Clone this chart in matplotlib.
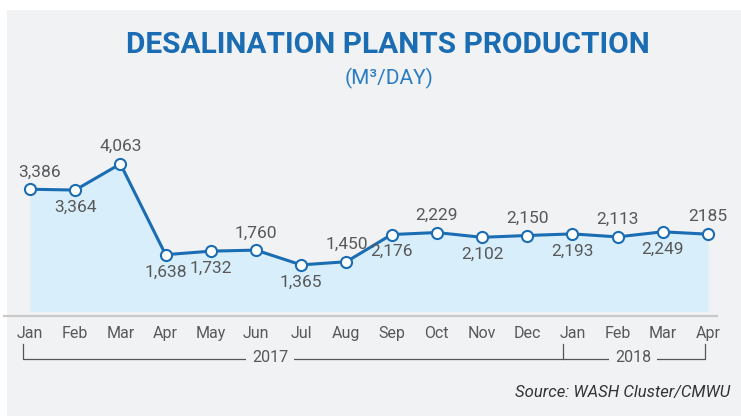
import matplotlib
matplotlib.use("Agg")
from matplotlib import pyplot as plt
from matplotlib.patches import Rectangle
from matplotlib.transforms import blended_transform_factory
import numpy as np

months = ["Jan", "Feb", "Mar", "Apr", "May", "Jun", "Jul", "Aug",
          "Sep", "Oct", "Nov", "Dec", "Jan", "Feb", "Mar", "Apr"]
production = [3386, 3364, 4063, 1638, 1732, 1760, 1365, 1450,
              2176, 2229, 2102, 2150, 2193, 2113, 2249, 2185]
value_labels = ["3,386", "3,364", "4,063", "1,638", "1,732", "1,760", "1,365", "1,450",
                "2,176", "2,229", "2,102", "2,150", "2,193", "2,113", "2,249", "2185"]
label_above = [True, False, True, False, False, True, False, True,
               False, True, False, True, False, True, False, True]
years = ["2017", "2018"]

blue = "#1b6db3"
fill = "#d8eefb"
panel = "#f1f2f4"
grey_text = "#585858"
font = ["Roboto", "DejaVu Sans"]

W, H = 741, 416
fig = plt.figure(figsize=(W / 100, H / 100), dpi=100, facecolor="white")
fig.patches.append(Rectangle((7 / W, 0), 1 - 7 / W, (H - 10) / H,
                             transform=fig.transFigure, facecolor=panel,
                             edgecolor="none", zorder=-10))

# axes: x px 4..717, y px 130..316 (from top)
ax = fig.add_axes([4 / W, (H - 316) / H, 713 / W, 186 / H])
ax.patch.set_alpha(0)
x = np.arange(len(months))
ax.set_xlim(-26 / 45.2, 15 + 9 / 45.2)
ax.set_ylim(0, 186 * 26.71)

ax.fill_between(x, 120, production, color=fill, lw=0, zorder=1)
ax.plot(x, production, color=blue, lw=2.2, zorder=3)
ax.plot(x, production, "o", ms=8, mfc="white", mec=blue, mew=1.5,
        zorder=4, clip_on=False)

for i, (v, lab, up) in enumerate(zip(production, value_labels, label_above)):
    dx = 7 if i == 0 else 0
    ax.annotate(lab, (i, v), xytext=(dx, 7 if up else -7), textcoords="offset points",
                ha="center", va="bottom" if up else "top",
                fontsize=12.5, color=grey_text, family=font)

for s in ["top", "left", "right"]:
    ax.spines[s].set_visible(False)
ax.spines["bottom"].set_color("#c9c9c9")
ax.spines["bottom"].set_linewidth(1.6)
ax.set_yticks([])
ax.set_xticks(x)
ax.set_xticklabels(months, family=font, fontsize=11.5, color=grey_text)
ax.tick_params(axis="x", length=0, pad=7)

# year brackets
tr = blended_transform_factory(ax.transData, fig.transFigure)
y_top = (H - 344) / H
y_bot = (H - 359) / H
left, mid, right = -0.15, 12 - 0.2, 15 - 0.07
ax.plot([left, left, mid, mid], [y_top, y_bot, y_bot, y_top], transform=tr,
        color="#555555", lw=0.9, clip_on=False)
ax.plot([mid, right, right], [y_bot, y_bot, y_top], transform=tr,
        color="#555555", lw=0.9, clip_on=False)
for yr, cx in zip(years, [(270 - 30) / 45.2, (633 - 30) / 45.2]):
    ax.text(cx, y_bot + 1.5 / H, yr, transform=tr, ha="center", va="center",
            fontsize=11.5, color=grey_text, family=font,
            bbox=dict(facecolor=panel, edgecolor="none", pad=4))

fig.text(388 / W, 1 - 45 / H, "DESALINATION PLANTS PRODUCTION", ha="center",
         va="center", fontsize=21.5, fontweight="bold", color=blue, family=font)
fig.text(389 / W, 1 - 78 / H, "(M\u00b3/DAY)", ha="center", va="center",
         fontsize=15, color="#2a7cc4", family=font)
fig.text(730 / W, 1 - 393 / H, "Source: WASH Cluster/CMWU", ha="right",
         va="center", fontsize=12, style="italic", color="#333333", family=font)

fig.savefig("out.png", dpi=100, facecolor=fig.get_facecolor())
